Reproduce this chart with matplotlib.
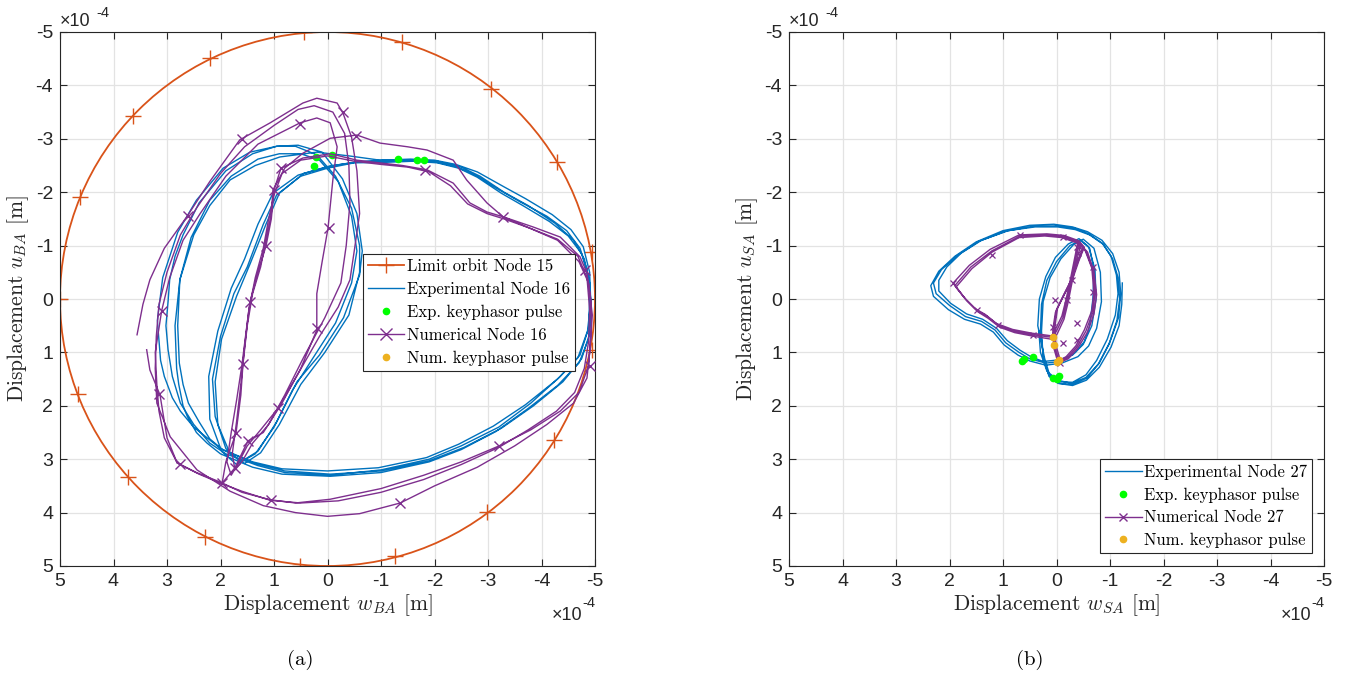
import numpy as np
import matplotlib
matplotlib.use("Agg")
import matplotlib.pyplot as plt
from matplotlib.patches import Circle
from matplotlib.lines import Line2D
from matplotlib.font_manager import FontProperties

plt.rcParams['mathtext.fontset'] = 'cm'

# ---------------- data (units of 1e-4 m) ----------------
SCALE = 1e-4
tick_vals = [-5, -4, -3, -2, -1, 0, 1, 2, 3, 4, 5]

limit_radius = 5.0
limit_markers = [(0.44, -5.0), (-1.39, -4.81), (-3.06, -3.93), (-4.29, -2.57), (-4.94, -0.88),
                 (-4.94, 0.96), (-4.23, 2.64), (-2.98, 3.99), (-1.26, 4.81), (0.51, 5.0),
                 (2.29, 4.46), (3.73, 3.33), (4.66, 1.78), (5.0, 0.0), (4.62, -1.91),
                 (3.64, -3.43), (2.2, -4.51)]

exp16 = [
    (-1.0, -2.58), (-1.5, -2.6), (-2.0, -2.57), (-2.4, -2.48), (-2.75, -2.33), (-3.2, -2.05), (-3.6, -1.82),
    (-4.1, -1.55), (-4.47, -1.28), (-4.72, -0.95), (-4.85, -0.55), (-4.9, 0.0), (-4.88, 0.55), (-4.72, 1.05),
    (-4.35, 1.45), (-3.8, 1.95), (-3.2, 2.4), (-2.5, 2.75), (-1.9, 3.0), (-1.0, 3.2), (-0.05, 3.3), (0.8, 3.25),
    (1.3, 3.12), (1.9, 2.9), (2.2, 2.7), (2.5, 2.35), (2.75, 1.95), (2.9, 1.45), (2.98, 0.95), (3.02, 0.5),
    (2.98, 0.05), (2.95, -0.36), (2.85, -0.8), (2.7, -1.2),
    (2.4, -1.8), (1.9, -2.4), (1.4, -2.72), (0.95, -2.86), (0.55, -2.88), (0.1, -2.75), (-0.28, -2.25),
    (-0.55, -1.6), (-0.65, -0.9), (-0.6, -0.45), (-0.3, 0.35), (0.15, 1.05), (0.57, 1.55), (0.95, 2.3),
    (1.3, 2.85), (1.62, 3.05), (1.9, 2.8), (2.1, 2.2), (2.15, 1.5), (2.0, 0.7), (1.75, -0.1), (1.5, -0.6),
    (1.2, -1.4), (0.95, -1.95), (0.5, -2.3), (0.0, -2.45), (-0.5, -2.55),
    (-1.1, -2.56), (-1.6, -2.58), (-2.05, -2.55), (-2.45, -2.45), (-2.8, -2.28), (-3.25, -1.98), (-3.65, -1.75),
    (-4.15, -1.45), (-4.5, -1.18), (-4.75, -0.85), (-4.88, -0.4), (-4.93, 0.1), (-4.9, 0.65), (-4.75, 1.12),
    (-4.4, 1.55), (-3.85, 2.0), (-3.25, 2.42), (-2.55, 2.78), (-1.9, 3.03), (-1.0, 3.22), (-0.05, 3.28),
    (0.8, 3.22), (1.35, 3.08), (1.95, 2.83), (2.2, 2.62), (2.4, 2.3), (2.6, 1.95), (2.7, 1.6), (2.77, 1.2),
    (2.8, 0.5), (2.76, -0.36),
    (2.55, -1.15), (2.2, -1.85), (1.8, -2.3), (1.3, -2.62), (0.9, -2.72), (0.5, -2.72), (0.15, -2.6),
    (-0.2, -2.2), (-0.45, -1.55), (-0.55, -0.9), (-0.45, -0.3), (-0.15, 0.45), (0.3, 1.15), (0.65, 1.7),
    (1.0, 2.4), (1.35, 2.9), (1.7, 3.1), (1.98, 2.85), (2.2, 2.25), (2.22, 1.45), (2.05, 0.6), (1.8, -0.2),
    (1.55, -0.75), (1.3, -1.4), (1.02, -1.98), (0.55, -2.32), (0.0, -2.48), (-0.55, -2.57),
    (-1.05, -2.6), (-1.55, -2.62), (-2.0, -2.6), (-2.4, -2.52), (-2.8, -2.38), (-3.3, -2.1), (-3.7, -1.88),
    (-4.2, -1.58), (-4.55, -1.3), (-4.78, -0.98), (-4.9, -0.5), (-4.92, 0.05), (-4.86, 0.6), (-4.68, 1.1),
    (-4.3, 1.5), (-3.7, 1.98), (-3.1, 2.38), (-2.45, 2.72), (-1.85, 2.97), (-0.95, 3.16), (0.0, 3.22),
    (0.85, 3.18), (1.4, 3.05), (2.0, 2.8), (2.5, 2.4), (2.75, 2.1), (2.9, 1.85), (3.05, 1.45), (3.12, 1.15),
    (3.18, 0.4), (3.08, -0.4),
    (2.8, -1.25), (2.45, -1.85), (1.95, -2.45), (1.45, -2.75), (0.95, -2.86), (0.6, -2.86), (0.2, -2.7),
    (-0.15, -2.3), (-0.45, -1.7), (-0.6, -1.0), (-0.6, -0.5), (-0.4, 0.3), (0.05, 1.0), (0.5, 1.6),
    (0.9, 2.35), (1.25, 2.88), (1.55, 3.08), (1.82, 2.9), (2.05, 2.35), (2.1, 1.55), (1.98, 0.75),
    (1.7, -0.05), (1.45, -0.65), (1.15, -1.4), (0.9, -1.98), (0.45, -2.35), (-0.1, -2.5), (-0.6, -2.57),
    (-1.1, -2.58), (-1.6, -2.6), (-2.05, -2.58), (-2.5, -2.47), (-2.85, -2.3), (-3.3, -2.0), (-3.75, -1.75),
    (-4.25, -1.42), (-4.6, -1.1), (-4.8, -0.75), (-4.9, -0.3), (-4.92, 0.2), (-4.88, 0.75), (-4.7, 1.2),
    (-4.3, 1.62), (-3.75, 2.05), (-3.15, 2.48), (-2.5, 2.82), (-1.9, 3.05), (-1.0, 3.25), (-0.05, 3.32),
    (0.85, 3.28), (1.4, 3.15), (2.0, 2.9), (2.25, 2.7), (2.45, 2.5), (2.62, 2.2), (2.7, 2.0), (2.78, 1.6),
    (2.82, 1.3), (2.85, 0.5), (2.76, -0.36),
    (2.5, -1.2), (2.2, -1.75), (1.82, -2.23), (1.35, -2.5), (0.89, -2.66), (0.2, -2.75), (-0.4, -2.68),
    (-0.98, -2.6), (-1.5, -2.6)]

exp_kp16 = [(0.21, -2.66), (-0.08, -2.7), (0.25, -2.49), (-1.32, -2.62), (-1.67, -2.6), (-1.8, -2.6)]

num16 = [
    (3.56, 0.67), (3.45, 0.1), (3.32, -0.36), (3.05, -0.95), (2.63, -1.54), (2.2, -2.2), (1.64, -2.98),
    (1.07, -3.3), (0.46, -3.67), (0.2, -3.76), (-0.18, -3.67), (-0.29, -3.48), (-0.45, -3.03), (-0.55, -2.4),
    (-0.6, -1.6), (-0.5, -0.9), (-0.42, -0.36), (-0.2, 0.15), (0.15, 0.7), (0.55, 1.4), (0.92, 2.04),
    (1.25, 2.45), (1.5, 2.75), (1.68, 3.1), (1.8, 3.3), (1.88, 3.05), (1.8, 2.5), (1.7, 1.9), (1.6, 1.24),
    (1.52, 0.6), (1.45, 0.06), (1.3, -0.5), (1.15, -0.99), (1.05, -1.5), (1.0, -2.04), (0.87, -2.45),
    (0.46, -2.64), (-0.05, -2.72), (-0.55, -2.6), (-0.98, -2.55), (-1.4, -2.5), (-1.86, -2.42), (-2.35, -2.17),
    (-2.66, -1.8), (-2.98, -1.63), (-3.28, -1.54), (-3.84, -1.35), (-4.35, -1.16), (-4.72, -0.79),
    (-4.85, -0.49), (-4.92, 0.0), (-4.93, 0.6), (-4.88, 1.25), (-4.7, 1.75), (-4.35, 2.1), (-3.8, 2.45),
    (-3.21, 2.75), (-2.5, 3.05), (-1.8, 3.3), (-1.0, 3.55), (-0.05, 3.75), (0.6, 3.82), (1.07, 3.76),
    (1.6, 3.62), (2.0, 3.43), (2.45, 3.25), (2.81, 3.07), (3.05, 2.6), (3.15, 2.1), (3.19, 1.6), (3.22, 1.0),
    (3.1, 0.22),
    (2.95, -0.4), (2.7, -1.1), (2.38, -1.6), (1.9, -2.3), (1.3, -2.9), (0.51, -3.3), (0.2, -3.39),
    (-0.05, -3.3), (-0.18, -2.85), (-0.1, -2.23), (-0.01, -1.33), (0.1, -0.7), (0.2, -0.1), (0.2, 0.58),
    (0.5, 1.3), (0.85, 1.95), (1.2, 2.5), (1.49, 2.66), (1.73, 3.16), (1.97, 3.45), (1.9, 3.05), (1.71, 2.51),
    (1.62, 1.8), (1.58, 1.22), (1.5, 0.5), (1.4, -0.1), (1.25, -0.6), (1.15, -1.1), (1.05, -1.6), (1.02, -2.04),
    (0.8, -2.45), (0.46, -2.73), (-0.05, -3.01), (-0.55, -3.07), (-0.98, -2.92), (-1.5, -2.85), (-1.86, -2.79),
    (-2.35, -2.6), (-2.6, -2.23), (-2.98, -1.8), (-3.28, -1.54), (-3.84, -1.3), (-4.3, -1.1), (-4.7, -0.7),
    (-4.88, -0.3), (-4.95, 0.3), (-4.9, 1.0), (-4.85, 1.48), (-4.6, 1.95), (-4.1, 2.35), (-3.5, 2.75),
    (-2.8, 3.15), (-2.0, 3.5), (-1.36, 3.82), (-0.6, 4.02), (0.0, 4.07), (0.6, 4.0), (1.2, 3.87), (1.82, 3.6),
    (2.44, 3.2), (2.94, 2.58), (3.19, 1.95), (3.22, 1.3), (3.2, 0.7),
    (3.15, 0.1), (3.0, -0.5), (2.75, -1.2), (2.45, -1.7), (2.0, -2.35), (1.55, -2.85), (1.0, -3.25),
    (0.55, -3.55), (0.25, -3.62), (-0.1, -3.5), (-0.32, -3.1), (-0.4, -2.5), (-0.42, -1.8), (-0.35, -1.0),
    (-0.25, -0.3), (0.05, 0.35), (0.45, 1.1), (0.8, 1.8), (1.1, 2.35), (1.4, 2.7), (1.6, 3.05), (1.73, 3.2),
    (1.78, 2.9), (1.7, 2.3), (1.62, 1.6), (1.55, 0.9), (1.47, 0.2), (1.35, -0.4), (1.2, -0.95), (1.1, -1.5),
    (1.0, -1.95), (0.85, -2.35), (0.5, -2.6), (0.0, -2.68), (-0.5, -2.58), (-1.0, -2.52), (-1.5, -2.47),
    (-1.9, -2.38), (-2.3, -2.12), (-2.62, -1.78), (-2.98, -1.6), (-3.3, -1.5), (-3.8, -1.32), (-4.3, -1.12),
    (-4.68, -0.8), (-4.85, -0.4), (-4.9, 0.2), (-4.88, 0.8), (-4.8, 1.3), (-4.62, 1.75), (-4.28, 2.1),
    (-3.75, 2.45), (-3.2, 2.78), (-2.5, 3.1), (-1.8, 3.38), (-1.0, 3.62), (-0.2, 3.78), (0.5, 3.82),
    (1.07, 3.77), (1.6, 3.6), (2.0, 3.45), (2.4, 3.28), (2.81, 3.07), (3.0, 2.6), (3.13, 1.8), (3.32, 1.33),
    (3.38, 0.95)]

num16_marks = [(-0.29, -3.50), (0.51, -3.28), (-0.53, -3.05), (1.6, -3.0), (0.87, -2.45), (-1.82, -2.42),
               (1.0, -2.04), (2.61, -1.55), (-3.28, -1.54), (-0.03, -1.33), (1.15, -0.99), (-4.81, -0.54),
               (3.09, 0.22), (1.45, 0.06), (0.2, 0.54), (1.58, 1.22), (-4.9, 1.25), (3.15, 1.78), (0.92, 2.04),
               (1.71, 2.51), (1.49, 2.66), (1.73, 3.16), (2.76, 3.09), (1.97, 3.45), (-3.21, 2.75), (1.06, 3.76),
               (-1.36, 3.82)]
num_kp16 = []

exp27 = [
    (-1.23, -0.3), (-1.22, 0.1), (-1.17, 0.5), (-1.02, 0.9), (-0.8, 1.28), (-0.56, 1.52), (-0.3, 1.62),
    (-0.03, 1.58), (0.14, 1.45), (0.24, 1.12),
    (0.3, 0.6), (0.28, 0.1), (0.18, -0.35), (0.0, -0.7), (-0.25, -1.0), (-0.45, -1.1), (-0.62, -0.95),
    (-0.7, -0.55), (-0.68, 0.0), (-0.62, 0.5), (-0.52, 0.8), (-0.35, 1.0), (-0.1, 1.17), (0.2, 1.2),
    (0.5, 1.12), (0.7, 1.0), (0.95, 0.82), (1.15, 0.58), (1.4, 0.42), (1.7, 0.33), (2.0, 0.12), (2.25, -0.1),
    (2.3, -0.3), (2.15, -0.55), (1.85, -0.82), (1.45, -1.08),
    (0.95, -1.27), (0.45, -1.36), (0.0, -1.37), (-0.35, -1.32), (-0.6, -1.22), (-0.85, -1.05), (-1.02, -0.8),
    (-1.12, -0.45), (-1.15, -0.1), (-1.1, 0.3), (-0.95, 0.75), (-0.75, 1.15), (-0.55, 1.42), (-0.3, 1.56),
    (-0.05, 1.55), (0.15, 1.4), (0.25, 1.1),
    (0.28, 0.6), (0.25, 0.05), (0.12, -0.4), (-0.08, -0.75), (-0.32, -1.02), (-0.5, -1.12), (-0.7, -0.95),
    (-0.82, -0.5), (-0.84, 0.05), (-0.75, 0.55), (-0.6, 0.88), (-0.4, 1.08), (-0.1, 1.2), (0.2, 1.24),
    (0.5, 1.16), (0.72, 1.05), (0.98, 0.86), (1.18, 0.62), (1.42, 0.47), (1.72, 0.38), (2.02, 0.2),
    (2.3, -0.05), (2.35, -0.25), (2.2, -0.52),
    (1.9, -0.8), (1.5, -1.07), (1.0, -1.28), (0.5, -1.38), (0.05, -1.4), (-0.3, -1.35), (-0.58, -1.26),
    (-0.85, -1.1), (-1.05, -0.85), (-1.17, -0.5), (-1.2, -0.1), (-1.16, 0.35), (-1.0, 0.8), (-0.8, 1.2),
    (-0.57, 1.48), (-0.3, 1.6), (-0.05, 1.58), (0.12, 1.45), (0.22, 1.12),
    (0.35, 0.5), (0.32, 0.0), (0.2, -0.42), (0.02, -0.78), (-0.22, -1.03), (-0.42, -1.13), (-0.6, -0.98),
    (-0.72, -0.55), (-0.74, 0.0), (-0.66, 0.5), (-0.5, 0.85), (-0.3, 1.05), (-0.05, 1.14), (0.25, 1.17),
    (0.48, 1.08), (0.68, 0.96), (0.92, 0.78), (1.12, 0.55), (1.38, 0.38), (1.68, 0.28), (1.98, 0.08),
    (2.2, -0.15), (2.2, -0.35), (2.05, -0.6),
    (1.78, -0.86), (1.4, -1.1), (0.9, -1.28), (0.4, -1.35), (-0.02, -1.35), (-0.35, -1.3), (-0.62, -1.2),
    (-0.88, -1.02), (-1.05, -0.75), (-1.15, -0.4), (-1.18, 0.0), (-1.13, 0.4), (-0.98, 0.85), (-0.78, 1.22),
    (-0.55, 1.47), (-0.28, 1.58), (-0.02, 1.52), (0.18, 1.35), (0.3, 1.0), (0.33, 0.6)]

exp_kp27 = [(0.64, 1.16), (0.6, 1.13), (0.44, 1.09), (0.07, 1.48), (-0.05, 1.44), (0.0, 1.5)]

num27 = [
    (1.9, -0.25), (1.6, -0.6), (1.21, -0.9), (0.68, -1.18), (0.2, -1.2), (-0.12, -1.17), (-0.4, -1.07),
    (-0.5, -0.95), (-0.4, -0.7), (-0.29, -0.38), (-0.15, -0.1), (0.0, 0.2), (0.05, 0.55), (0.03, 0.9),
    (-0.05, 1.17), (-0.2, 1.1), (-0.38, 0.9), (-0.55, 0.6), (-0.68, 0.25), (-0.72, -0.1), (-0.68, -0.55),
    (-0.55, -0.9), (-0.42, -1.05), (-0.36, -0.75), (-0.29, -0.4), (-0.2, 0.02), (-0.12, 0.35), (0.0, 0.6),
    (0.07, 0.72), (0.44, 0.67), (0.8, 0.6), (1.09, 0.49), (1.3, 0.32), (1.49, 0.21), (1.7, 0.0),
    (1.88, -0.22), (1.58, -0.57), (1.2, -0.88), (0.7, -1.15), (0.22, -1.18), (-0.1, -1.15), (-0.38, -1.05),
    (-0.48, -0.92), (-0.38, -0.66), (-0.27, -0.35), (-0.12, -0.05), (0.02, 0.25), (0.07, 0.58), (0.05, 0.92),
    (-0.03, 1.2), (-0.22, 1.12), (-0.4, 0.92), (-0.58, 0.62), (-0.7, 0.28), (-0.75, -0.08), (-0.7, -0.52),
    (-0.58, -0.88), (-0.45, -1.02), (-0.38, -0.72), (-0.3, -0.36), (-0.22, 0.05), (-0.14, 0.38), (-0.02, 0.64),
    (0.05, 0.76), (0.42, 0.7), (0.78, 0.63), (1.06, 0.53), (1.28, 0.36), (1.47, 0.24), (1.68, 0.03),
    (1.93, -0.3), (1.63, -0.63), (1.24, -0.93), (0.7, -1.2), (0.18, -1.22), (-0.14, -1.19), (-0.42, -1.09),
    (-0.52, -0.97), (-0.42, -0.72), (-0.31, -0.4), (-0.17, -0.13), (-0.02, 0.17), (0.03, 0.52), (0.01, 0.87),
    (-0.07, 1.14), (-0.18, 1.08), (-0.36, 0.88), (-0.52, 0.58), (-0.66, 0.22), (-0.7, -0.12), (-0.66, -0.58),
    (-0.53, -0.92), (-0.4, -1.07), (-0.34, -0.77), (-0.27, -0.42), (-0.18, 0.0), (-0.1, 0.32), (0.02, 0.57),
    (0.09, 0.69), (0.46, 0.64), (0.82, 0.57), (1.12, 0.46), (1.33, 0.29), (1.52, 0.18), (1.73, -0.03),
    (1.92, -0.28)]

num27_marks = [(0.68, -1.2), (-0.12, -1.16), (1.21, -0.82), (1.93, -0.3), (1.49, 0.21), (1.09, 0.49),
               (0.44, 0.67), (0.07, 0.52), (-0.38, -0.97), (-0.4, -0.86), (-0.68, -0.6), (-0.29, -0.36),
               (-0.2, 0.02), (0.03, 0.02), (-0.68, -0.13), (-0.38, 0.45), (-0.12, 0.82), (-0.38, 0.77),
               (-0.07, 1.2)]
num_kp27 = [(0.07, 0.71), (0.05, 0.86), (0.0, 1.18), (-0.05, 1.14)]

# ---------------- styles ----------------
C_LIM = '#D95319'
C_EXP = '#0072BD'
C_NUM = '#7E2F8E'
C_EKP = '#00FF00'
C_NKP = '#EDB120'
C_AX = '#262626'

serif = FontProperties(family='cmr10', size=12)
lab_font = dict(family='cmr10', size=15.5)
tick_font = 'Liberation Sans'


def xy(pts):
    if len(pts) == 0:
        return np.array([]), np.array([])
    a = np.array(pts, float) * SCALE
    return a[:, 0], a[:, 1]


def setup(ax, xl, yl):
    t = np.array(tick_vals) * SCALE
    ax.set_xlim(5 * SCALE, -5 * SCALE)
    ax.set_ylim(5 * SCALE, -5 * SCALE)
    ax.set_xticks(t)
    ax.set_yticks(t)
    ax.set_xticklabels([str(v) for v in tick_vals], fontfamily=tick_font, fontsize=14, color=C_AX)
    ax.set_yticklabels([str(v) for v in tick_vals], fontfamily=tick_font, fontsize=14, color=C_AX)
    ax.grid(True, color='#E3E3E3', lw=0.9)
    ax.set_axisbelow(True)
    ax.tick_params(direction='in', top=True, right=True, length=5, width=0.8, color=C_AX, pad=5)
    for s in ax.spines.values():
        s.set_color(C_AX)
        s.set_linewidth(0.8)
    ax.set_xlabel(xl, fontdict=lab_font, color=C_AX, labelpad=2)
    ax.set_ylabel(yl, fontdict=lab_font, color=C_AX, labelpad=3)
    ax.text(0.0, 1.004, '×10', transform=ax.transAxes, ha='left', va='bottom',
            fontfamily=tick_font, fontsize=13, color=C_AX)
    ax.text(0.068, 1.022, '-4', transform=ax.transAxes, ha='left', va='bottom',
            fontfamily=tick_font, fontsize=10.5, color=C_AX)
    ax.text(0.976, -0.076, '×10', transform=ax.transAxes, ha='right', va='top',
            fontfamily=tick_font, fontsize=13, color=C_AX)
    ax.text(0.977, -0.057, '-4', transform=ax.transAxes, ha='left', va='top',
            fontfamily=tick_font, fontsize=10.5, color=C_AX)


fig = plt.figure(figsize=(13.47, 6.75), dpi=100)
ax_a = fig.add_axes([60 / 1347, 109 / 675, 535 / 1347, 534 / 675])
ax_b = fig.add_axes([789 / 1347, 109 / 675, 535 / 1347, 534 / 675])

# ---- panel (a)
setup(ax_a, r'Displacement $w_{BA}$ [m]', r'Displacement $u_{BA}$ [m]')
ax_a.add_patch(Circle((0, 0), limit_radius * SCALE, fill=False, ec=C_LIM, lw=1.3, zorder=2))
x, y = xy(limit_markers)
ax_a.plot(x, y, ls='none', marker='+', ms=12, mew=1.0, color=C_LIM, zorder=2)
x, y = xy(exp16)
ax_a.plot(x, y, color=C_EXP, lw=1.0, zorder=3)
x, y = xy(exp_kp16)
ax_a.plot(x, y, ls='none', marker='o', ms=4.5, color=C_EKP, zorder=4)
x, y = xy(num16)
ax_a.plot(x, y, color=C_NUM, lw=1.0, zorder=5)
x, y = xy(num16_marks)
ax_a.plot(x, y, ls='none', marker='x', ms=7, mew=1.0, color=C_NUM, zorder=5)
x, y = xy(num_kp16)
ax_a.plot(x, y, ls='none', marker='o', ms=4.5, color=C_NKP, zorder=6)

h_lim = Line2D([], [], color=C_LIM, lw=1.3, marker='+', ms=12, mew=1.0)
h_exp = Line2D([], [], color=C_EXP, lw=1.0)
h_ekp = Line2D([], [], color=C_EKP, ls='none', marker='o', ms=4.5)
h_num = Line2D([], [], color=C_NUM, lw=1.0, marker='x', ms=9, mew=1.0)
h_nkp = Line2D([], [], color=C_NKP, ls='none', marker='o', ms=4.5)

leg = ax_a.legend([h_lim, h_exp, h_ekp, h_num, h_nkp],
                  ['Limit orbit Node 15', 'Experimental Node 16', 'Exp. keyphasor pulse',
                   'Numerical Node 16', 'Num. keyphasor pulse'],
                  loc='upper left', bbox_to_anchor=(0.566, 0.585), prop=serif, fancybox=False,
                  framealpha=1, edgecolor=C_AX, borderpad=0.3, labelspacing=0.45,
                  handlelength=2.2, handletextpad=0.15, borderaxespad=0)
leg.get_frame().set_linewidth(0.8)
leg.set_zorder(10)

# ---- panel (b)
setup(ax_b, r'Displacement $w_{SA}$ [m]', r'Displacement $u_{SA}$ [m]')
x, y = xy(exp27)
ax_b.plot(x, y, color=C_EXP, lw=1.0, zorder=3)
x, y = xy(exp_kp27)
ax_b.plot(x, y, ls='none', marker='o', ms=4.5, color=C_EKP, zorder=4)
x, y = xy(num27)
ax_b.plot(x, y, color=C_NUM, lw=1.0, zorder=5)
x, y = xy(num27_marks)
ax_b.plot(x, y, ls='none', marker='x', ms=5, mew=0.9, color=C_NUM, zorder=5)
x, y = xy(num_kp27)
ax_b.plot(x, y, ls='none', marker='o', ms=4.5, color=C_NKP, zorder=6)

h_num2 = Line2D([], [], color=C_NUM, lw=1.0, marker='x', ms=6, mew=1.0)
leg2 = ax_b.legend([h_exp, h_ekp, h_num2, h_nkp],
                   ['Experimental Node 27', 'Exp. keyphasor pulse', 'Numerical Node 27',
                    'Num. keyphasor pulse'],
                   loc='lower right', bbox_to_anchor=(0.978, 0.024), prop=serif, fancybox=False,
                   framealpha=1, edgecolor=C_AX, borderpad=0.3, labelspacing=0.45,
                   handlelength=2.2, handletextpad=0.15, borderaxespad=0)
leg2.get_frame().set_linewidth(0.8)
leg2.set_zorder(10)

fig.text(300 / 1347, 1 - 660 / 675, '(a)', ha='center', va='center', family='cmr10', fontsize=15, color='k')
fig.text(1030 / 1347, 1 - 660 / 675, '(b)', ha='center', va='center', family='cmr10', fontsize=15, color='k')

fig.savefig('out.png', dpi=100)
